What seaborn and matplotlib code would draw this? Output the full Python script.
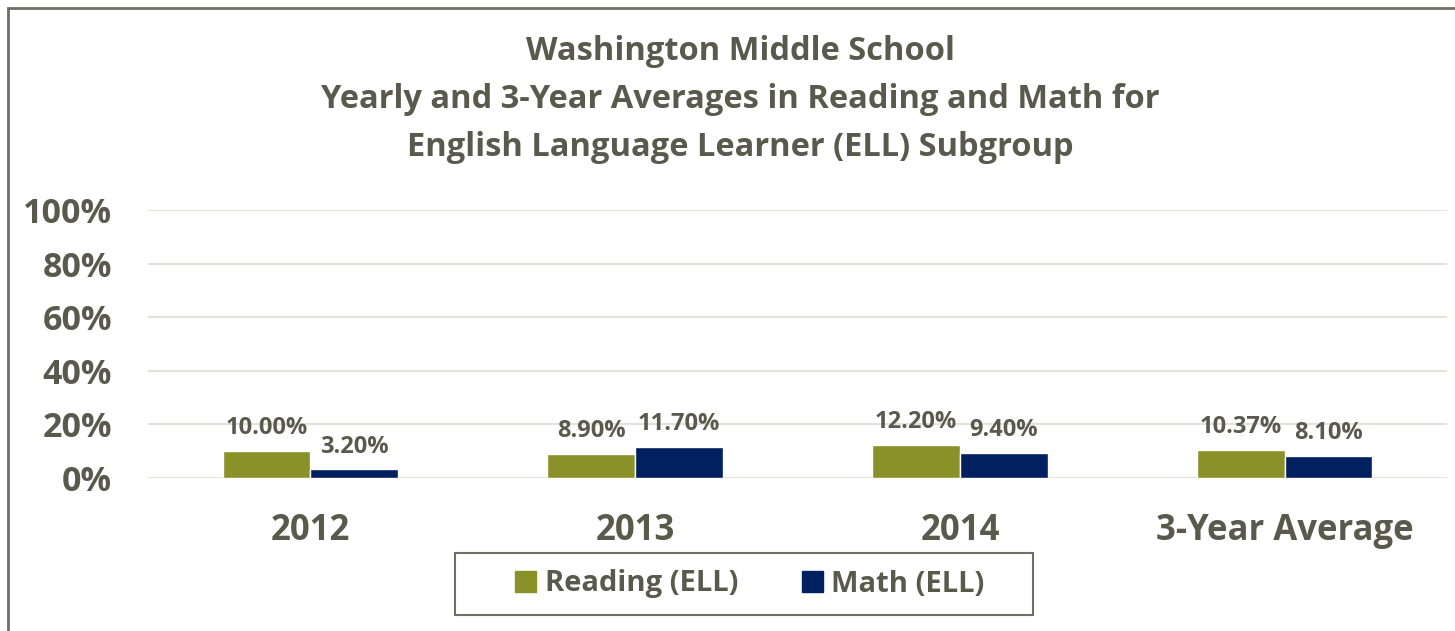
import matplotlib
matplotlib.use("Agg")
import matplotlib.pyplot as plt
from matplotlib.patches import Rectangle
import seaborn as sns
import pandas as pd

categories = ["2012", "2013", "2014", "3-Year Average"]
reading = [10.00, 8.90, 12.20, 10.37]
math_vals = [3.20, 11.70, 9.40, 8.10]
series_names = ["Reading (ELL)", "Math (ELL)"]
y_ticks = [0, 20, 40, 60, 80, 100]

TEXT = "#59594c"
FRAME = "#6e6e62"
colors = ["#8a9128", "#00205f"]

df = pd.DataFrame({
    "category": categories * 2,
    "value": reading + math_vals,
    "series": [series_names[0]] * 4 + [series_names[1]] * 4,
})

sns.set_style("white")
plt.rcParams["font.family"] = ["Open Sans", "DejaVu Sans"]
plt.rcParams["font.weight"] = "bold"

W, H = 1455, 631
fig = plt.figure(figsize=(W / 100, H / 100), dpi=100)
ax = fig.add_axes([148 / W, 153 / H, 1299 / W, 268 / H])

sns.barplot(data=df, x="category", y="value", hue="series", palette=colors,
            width=0.54, gap=0, saturation=1, ax=ax, legend=False)

ax.set_ylim(0, 100)
ax.set_yticks(y_ticks)
ax.set_yticklabels([f"{t}%" for t in y_ticks])
ax.yaxis.grid(True, color="#e3e3dc", linewidth=1.5)
ax.set_axisbelow(True)
for s in ax.spines.values():
    s.set_visible(False)
ax.set_xlabel("")
ax.set_ylabel("")
ax.tick_params(axis="y", length=0, pad=26, labelsize=24.5, labelcolor=TEXT)
ax.tick_params(axis="x", length=0, pad=25, labelsize=25, labelcolor=TEXT)
for lab in ax.get_xticklabels() + ax.get_yticklabels():
    lab.set_fontweight("bold")

# value labels above each bar
for container in ax.containers:
    for bar in container:
        h = bar.get_height()
        ax.annotate(f"{h:.2f}%", (bar.get_x() + bar.get_width() / 2, h),
                    xytext=(0, 16.5), textcoords="offset points",
                    ha="center", va="center", fontsize=17,
                    fontweight="bold", color=TEXT)

fig.text(740 / W, 1 - 99 / H,
         "Washington Middle School\nYearly and 3-Year Averages in Reading and Math for\nEnglish Language Learner (ELL) Subgroup",
         ha="center", va="center", fontsize=23.5, fontweight="bold", color=TEXT,
         linespacing=1.6)

handles = [Rectangle((0, 0), 1, 1, color=c) for c in colors]
leg = fig.legend(handles, series_names, loc="center",
                 bbox_to_anchor=(750 / W, 1 - 584 / H),
                 ncol=2, frameon=False, fontsize=21,
                 handlelength=0.72, handleheight=0.72, columnspacing=2.17,
                 handletextpad=0.3, borderaxespad=0)
for t in leg.get_texts():
    t.set_color(TEXT)
    t.set_fontweight("bold")

# legend box, drawn wider than the entries like the original
fig.patches.append(Rectangle((455 / W, 1 - 615 / H), 578 / W, 62 / H,
                             transform=fig.transFigure, fill=False,
                             edgecolor=FRAME, linewidth=1.5))

# outer chart frame (right and bottom edges run off the image)
fig.patches.append(Rectangle((8 / W, -0.05), 1.1, 1 - 8 / H + 0.05,
                             transform=fig.transFigure, fill=False,
                             edgecolor=FRAME, linewidth=2))

fig.savefig("out.png", dpi=100)
